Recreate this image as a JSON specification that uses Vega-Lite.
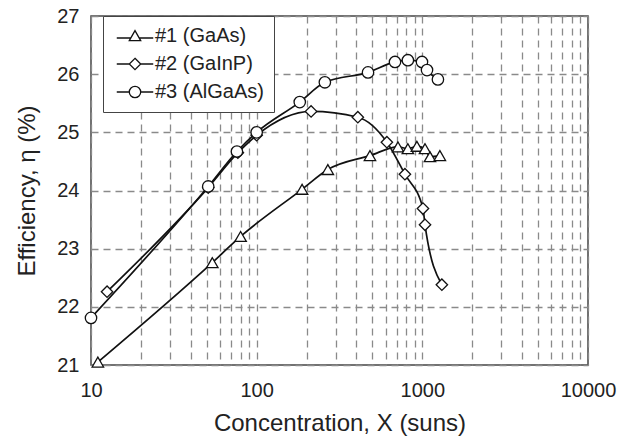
{
  "$schema": "https://vega.github.io/schema/vega-lite/v6.json",
  "width": 497,
  "height": 349,
  "autosize": {"type": "none"},
  "padding": {"left": 91, "top": 16, "right": 32, "bottom": 78},
  "background": "white",
  "config": {
    "font": "Liberation Sans",
    "view": {"stroke": "#444", "strokeWidth": 1.5},
    "axis": {
      "labelFont": "Liberation Sans", "labelFontSize": 20, "labelColor": "#222",
      "titleFont": "Liberation Sans", "titleFontSize": 24, "titleFontWeight": "normal", "titleColor": "#222",
      "ticks": false, "domain": false,
      "gridColor": "#8a8a8a", "gridDash": [7, 5], "gridWidth": 1.3, "gridOpacity": 1
    },
    "legend": {
      "orient": "none", "legendX": 12, "legendY": 0,
      "fillColor": "white", "strokeColor": "#444",
      "padding": 10, "rowPadding": 8,
      "labelFont": "Liberation Sans", "labelFontSize": 20, "labelColor": "#222",
      "symbolSize": 130, "symbolOffset": 12, "labelOffset": 10,
      "symbolStrokeWidth": 1.3, "symbolStrokeColor": "#111"
    }
  },
  "data": {"values": [
    {"series": "#1 (GaAs)", "x": 11, "y": 21.05},
    {"series": "#1 (GaAs)", "x": 54, "y": 22.76},
    {"series": "#1 (GaAs)", "x": 80, "y": 23.21},
    {"series": "#1 (GaAs)", "x": 188, "y": 24.02},
    {"series": "#1 (GaAs)", "x": 269, "y": 24.36},
    {"series": "#1 (GaAs)", "x": 483, "y": 24.6},
    {"series": "#1 (GaAs)", "x": 713, "y": 24.75},
    {"series": "#1 (GaAs)", "x": 818, "y": 24.72},
    {"series": "#1 (GaAs)", "x": 927, "y": 24.76},
    {"series": "#1 (GaAs)", "x": 1038, "y": 24.72},
    {"series": "#1 (GaAs)", "x": 1112, "y": 24.58},
    {"series": "#1 (GaAs)", "x": 1276, "y": 24.6},
    {"series": "#2 (GaInP)", "x": 12.5, "y": 22.26},
    {"series": "#2 (GaInP)", "x": 51, "y": 24.05},
    {"series": "#2 (GaInP)", "x": 77, "y": 24.65},
    {"series": "#2 (GaInP)", "x": 100, "y": 24.95},
    {"series": "#2 (GaInP)", "x": 213, "y": 25.36},
    {"series": "#2 (GaInP)", "x": 408, "y": 25.26},
    {"series": "#2 (GaInP)", "x": 611, "y": 24.83},
    {"series": "#2 (GaInP)", "x": 785, "y": 24.28},
    {"series": "#2 (GaInP)", "x": 1009, "y": 23.69},
    {"series": "#2 (GaInP)", "x": 1038, "y": 23.41},
    {"series": "#2 (GaInP)", "x": 1312, "y": 22.38},
    {"series": "#3 (AlGaAs)", "x": 10, "y": 21.81},
    {"series": "#3 (AlGaAs)", "x": 51, "y": 24.07},
    {"series": "#3 (AlGaAs)", "x": 76, "y": 24.67},
    {"series": "#3 (AlGaAs)", "x": 100, "y": 25.0},
    {"series": "#3 (AlGaAs)", "x": 182, "y": 25.52},
    {"series": "#3 (AlGaAs)", "x": 258, "y": 25.86},
    {"series": "#3 (AlGaAs)", "x": 470, "y": 26.03},
    {"series": "#3 (AlGaAs)", "x": 684, "y": 26.21},
    {"series": "#3 (AlGaAs)", "x": 818, "y": 26.24},
    {"series": "#3 (AlGaAs)", "x": 995, "y": 26.21},
    {"series": "#3 (AlGaAs)", "x": 1067, "y": 26.07},
    {"series": "#3 (AlGaAs)", "x": 1242, "y": 25.91}
  ]},
  "encoding": {
    "x": {
      "field": "x", "type": "quantitative",
      "scale": {"type": "log", "domain": [10, 10000], "nice": false},
      "axis": {
        "title": "Concentration, X (suns)",
        "values": [10, 20, 30, 40, 50, 60, 70, 80, 90, 100, 200, 300, 400, 500, 600, 700, 800, 900, 1000, 2000, 3000, 4000, 5000, 6000, 7000, 8000, 9000, 10000],
        "labelExpr": "indexof([10, 100, 1000, 10000], datum.value) >= 0 ? format(datum.value, 'd') : ''",
        "labelPadding": 15, "titlePadding": 11, "labelFlush": false, "labelOverlap": false
      }
    },
    "y": {
      "field": "y", "type": "quantitative",
      "scale": {"domain": [21, 27], "nice": false, "zero": false},
      "axis": {
        "title": "Efficiency, η (%)",
        "values": [21, 22, 23, 24, 25, 26, 27],
        "labelPadding": 12, "titlePadding": 17
      }
    }
  },
  "layer": [
    {
      "mark": {"type": "line", "color": "#111", "strokeWidth": 1.7, "interpolate": "monotone"},
      "encoding": {"detail": {"field": "series"}}
    },
    {
      "mark": {"type": "point", "filled": false, "fill": "white", "fillOpacity": 1, "stroke": "#111", "strokeWidth": 1.3, "size": 130, "opacity": 1},
      "encoding": {
        "shape": {
          "field": "series", "type": "nominal",
          "scale": {"domain": ["#1 (GaAs)", "#2 (GaInP)", "#3 (AlGaAs)"], "range": ["triangle-up", "diamond", "circle"]},
          "legend": null
        }
      }
    },
    {
      "transform": [{"filter": "datum.x < 0"}],
      "mark": {"type": "point", "filled": false, "stroke": "#111", "strokeWidth": 1.3, "size": 130, "opacity": 1},
      "encoding": {
        "shape": {
          "field": "series", "type": "nominal",
          "scale": {
            "domain": ["#1 (GaAs)", "#2 (GaInP)", "#3 (AlGaAs)"],
            "range": [
              "M-3.2,0.35H-0.75M0.75,0.35H3.2M0,-0.95L1,0.8L-1,0.8Z",
              "M-3.2,0H-1M1,0H3.2M0,-1L1,0L0,1L-1,0Z",
              "M-3.2,0H-1M1,0H3.2M1,0A1,1,0,1,1,-1,0A1,1,0,1,1,1,0Z"
            ]
          },
          "legend": {"title": null}
        }
      }
    }
  ],
  "resolve": {"scale": {"shape": "independent"}}
}
